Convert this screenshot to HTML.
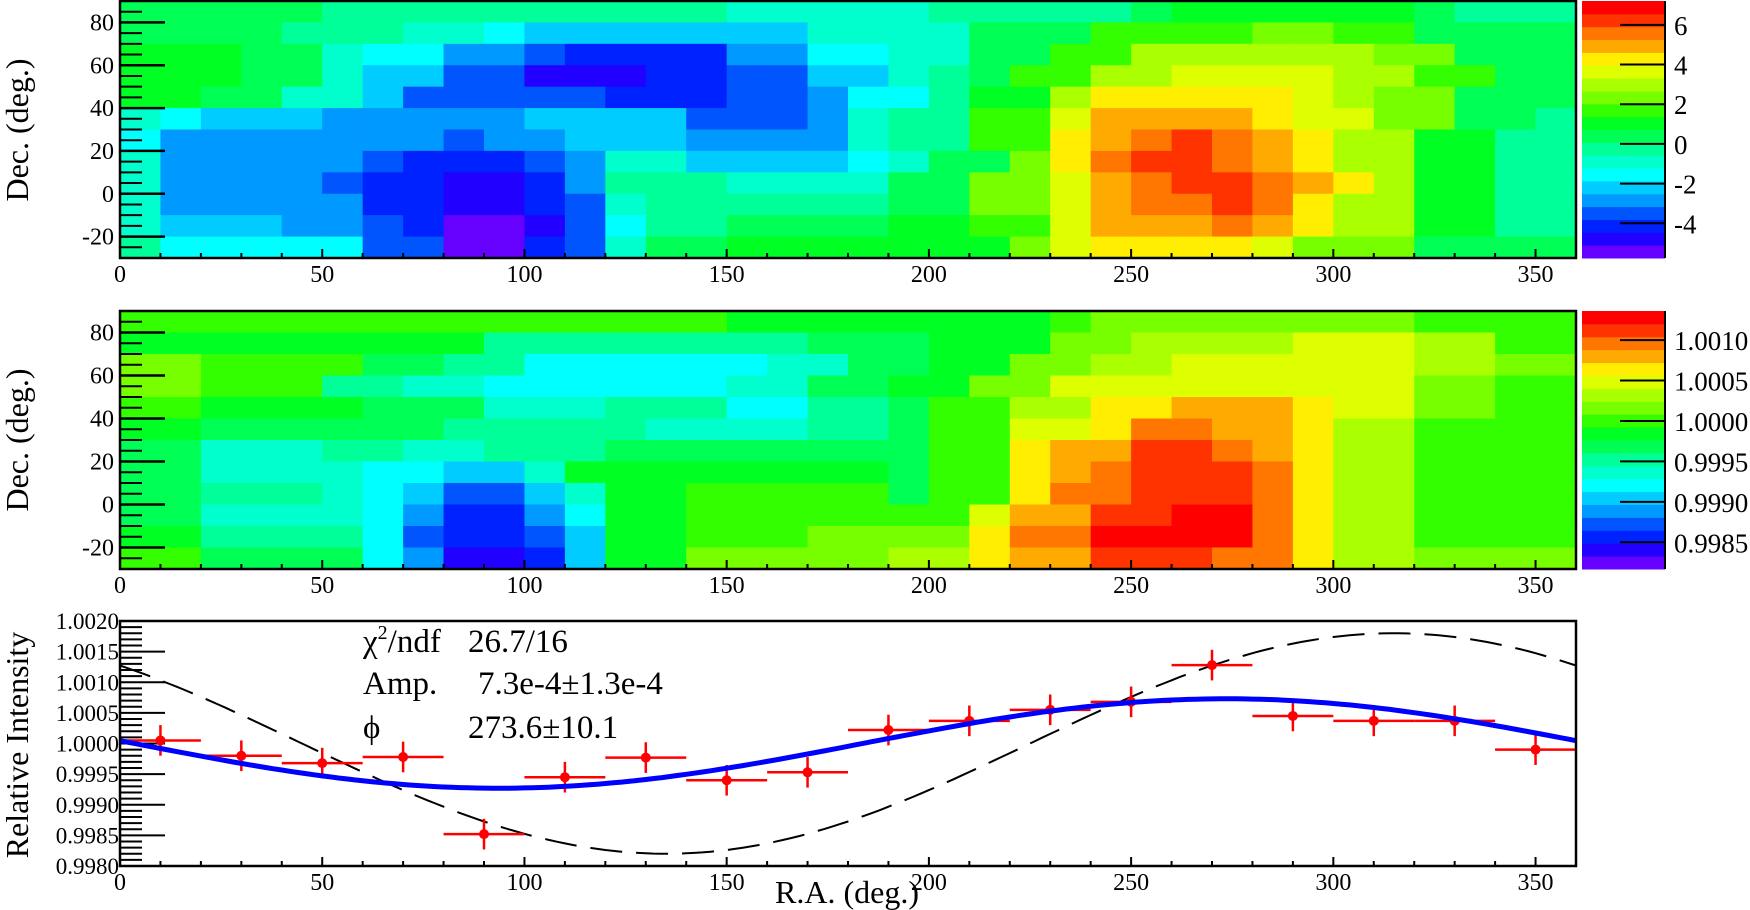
<!DOCTYPE html>
<html><head><meta charset="utf-8">
<style>
html,body{margin:0;padding:0;background:#fff;}
svg{display:block;font-family:"Liberation Serif",serif;}
</style></head>
<body>
<svg id="fig" width="1750" height="910" viewBox="0 0 1750 910" xmlns="http://www.w3.org/2000/svg">
  <g id="p1"></g>
  <g id="p2"></g>
  <g id="p3"></g>
  <text x="0" y="0" font-size="32" text-anchor="middle" transform="translate(28,130) rotate(-90)">Dec. (deg.)</text>
  <text x="0" y="0" font-size="32" text-anchor="middle" transform="translate(28,440) rotate(-90)">Dec. (deg.)</text>
  <text x="0" y="0" font-size="32" text-anchor="middle" transform="translate(28,745) rotate(-90)">Relative Intensity</text>
  <text x="847" y="903" font-size="32" text-anchor="middle">R.A. (deg.)</text>
  <g font-size="33">
    <text x="363" y="652">χ<tspan font-size="20" dy="-13">2</tspan><tspan dy="13">/ndf</tspan></text>
    <text x="468" y="652">26.7/16</text>
    <text x="363" y="694">Amp.</text>
    <text x="478" y="694">7.3e-4±1.3e-4</text>
    <text x="363" y="738">ϕ</text>
    <text x="468" y="738">273.6±10.1</text>
  </g>
</svg>
<script>
// ---------- data ----------
const raBinEdges = [0,10,20,30,40,50,60,70,80,90,100,110,120,130,140,150,160,170,180,190,200,210,220,230,240,250,260,270,280,290,300,310,320,330,340,350,360];
const decBinTops = [90,80,70,60,50,40,30,20,10,0,-10,-20];
// significance map (sigma), rows from Dec 80-90 down to Dec -30..-20
const sigRow80 = [0.4,0.4,0.4,0.4,0.4,-0.2,-0.2,-0.2,-0.2,-0.2,-0.2,-0.2,-0.2,-0.2,-0.5,-0.9,-0.9,-0.9,-0.9,-0.9,-0.5,-0.2,-0.2,-0.2,-0.2,0.4,0.8,0.8,0.8,1.1,1.1,0.8,0.4,-0.2,-0.2,-0.2];
const sigRow70 = [0.5,0.5,0.5,0.5,-0.2,-0.2,-0.2,-0.9,-1.2,-1.5,-2.5,-2.5,-2.5,-2.5,-2.5,-2.5,-2.5,-0.9,-0.9,-0.9,-0.9,0.4,0.4,0.4,1.7,1.7,2.0,2.0,2.4,2.4,2.0,2.0,0.4,0.4,0.4,0.4];
const sigRow60 = [1.0,1.0,1.0,0.4,0.4,-0.9,-1.5,-1.5,-2.6,-2.6,-3.5,-4.3,-4.3,-4.3,-4.3,-2.8,-2.8,-1.5,-1.5,-0.9,-0.9,0.4,0.4,1.7,1.7,3.2,3.2,3.2,3.2,3.2,3.2,2.4,2.4,0.4,0.4,0.4];
const sigRow50 = [1.2,1.2,1.2,0.5,0.5,-0.9,-2.2,-2.2,-3.5,-3.5,-4.8,-4.8,-4.8,-4.1,-4.1,-3.5,-3.5,-2.2,-2.2,-0.9,-0.4,0.4,1.7,1.7,3.0,3.0,3.7,3.7,3.7,3.7,3.0,3.0,1.7,1.7,0.4,0.4];
const sigRow40 = [1.1,1.1,0.4,0.4,-1.2,-1.2,-2.2,-3.4,-3.4,-3.4,-3.2,-3.2,-4.1,-4.1,-4.1,-3.5,-3.5,-2.8,-1.5,-1.5,-0.2,1.1,1.1,3.0,4.0,4.3,4.3,4.0,4.0,3.7,3.3,2.4,2.4,0.4,0.4,0.4];
const sigRow30 = [-0.9,-1.5,-2.2,-2.2,-2.2,-2.8,-2.8,-2.8,-2.8,-2.8,-2.5,-2.5,-2.5,-2.5,-3.5,-3.5,-3.5,-2.8,-0.9,-0.2,-0.2,1.4,1.4,3.7,5.0,5.2,5.0,5.0,4.3,3.7,3.7,2.4,2.4,0.4,0.4,-0.2];
const sigRow20 = [-1.5,-2.8,-2.8,-2.8,-2.8,-2.8,-2.8,-2.8,-3.5,-2.8,-2.8,-2.4,-2.4,-2.4,-3.1,-3.1,-3.1,-2.8,-0.9,-0.2,-0.2,1.7,1.7,4.3,5.0,5.6,6.3,5.6,5.0,4.3,3.0,3.0,1.1,1.1,-0.2,-0.2];
const sigRow10 = [-0.9,-2.9,-2.9,-2.9,-2.9,-2.9,-3.5,-4.0,-4.0,-4.0,-3.5,-2.8,-1.2,-1.2,-2.2,-2.2,-2.2,-2.2,-1.5,-0.9,0.4,0.4,2.4,4.3,5.6,6.3,6.3,5.6,5.0,4.3,3.0,3.0,1.1,1.1,-0.2,-0.2];
const sigRow0 = [-0.9,-2.8,-2.8,-2.8,-2.8,-3.5,-4.1,-4.1,-4.7,-4.7,-4.1,-2.8,-0.5,-0.5,-0.5,-0.9,-0.9,-0.9,-0.9,0.4,0.4,2.4,2.4,3.7,5.0,5.6,6.5,6.3,5.6,5.0,4.3,3.0,1.1,1.1,-0.2,-0.5];
const sigRowM10 = [-0.9,-2.6,-2.6,-2.6,-2.8,-2.8,-4.1,-4.1,-5.1,-5.1,-4.1,-3.5,-0.9,-0.1,-0.1,-0.1,-0.2,-0.2,-0.2,0.4,0.4,2.4,2.4,3.7,5.0,5.6,5.6,6.3,5.3,4.3,3.0,3.0,1.1,1.1,-0.2,-0.2];
const sigRowM20 = [-0.9,-2.2,-2.2,-2.2,-2.8,-2.8,-3.5,-4.1,-5.4,-5.4,-4.8,-3.5,-1.5,-0.2,-0.2,0.4,0.4,0.4,0.4,1.1,1.1,1.7,1.7,3.7,5.0,5.0,5.0,5.6,5.0,4.3,3.0,3.0,1.1,1.1,-0.2,-0.2];
const sigRowM30 = [-0.2,-1.5,-1.5,-1.8,-1.8,-1.8,-3.5,-3.5,-5.2,-5.2,-4.1,-3.5,-0.9,0.4,0.4,1.0,1.0,1.0,1.0,1.0,1.0,1.0,2.4,3.7,4.3,4.3,4.3,4.3,3.7,2.4,2.4,2.4,0.4,0.4,0.4,0.4];
// relative intensity map, deviation from 1 in units of 1e-4
const relRow80 = [-0.5,-0.5,-0.5,-0.5,-0.5,-0.5,-0.5,-0.5,-0.5,-0.5,-0.5,-0.5,-0.5,-0.5,-0.5,-1.5,-1.5,-1.5,-1.5,-1.5,-1.5,-1.5,-1.5,-0.5,1.7,1.7,1.7,1.7,1.7,1.7,1.7,1.7,0.1,0.1,0.1,0.1];
const relRow70 = [-1.5,-1.5,-1.5,-1.5,-1.5,-1.5,-1.5,-1.5,-1.5,-4.0,-4.0,-4.0,-4.0,-4.0,-4.0,-4.0,-4.0,-3.1,-3.1,-3.1,-1.5,-1.5,-1.5,1.7,1.7,3.3,3.3,3.3,3.3,4.9,4.9,4.9,3.3,3.3,0.1,0.1];
const relRow60 = [1.5,1.5,0.1,0.1,0.1,0.1,-3.1,-3.1,-5.5,-5.5,-7.5,-7.5,-7.5,-7.5,-7.5,-7.5,-6.3,-6.3,-3.1,-3.1,-1.5,-1.5,1.7,1.7,4.0,4.0,4.9,4.9,4.9,4.9,4.9,4.9,3.3,3.3,1.7,1.7];
const relRow50 = [1.8,1.8,0.1,0.1,0.1,-4.0,-4.0,-6.3,-6.3,-7.9,-7.9,-7.9,-7.9,-7.9,-7.9,-6.3,-6.3,-3.1,-3.1,-1.5,-1.5,1.7,1.7,4.9,4.9,4.9,5.5,5.5,5.5,5.5,4.9,4.9,1.7,1.7,0.1,0.1];
const relRow40 = [0.1,0.1,-1.5,-1.5,-1.5,-1.5,-3.1,-3.1,-3.1,-6.3,-6.3,-6.3,-4.7,-4.7,-4.7,-7.5,-7.5,-4.7,-4.7,-3.1,0.1,0.1,3.3,3.3,6.5,6.5,7.5,7.5,7.5,6.5,4.9,4.9,1.7,1.7,0.1,0.1];
const relRow30 = [-1.5,-1.5,-3.1,-3.1,-3.1,-3.1,-3.1,-3.1,-4.7,-4.7,-4.7,-4.7,-4.7,-6.3,-6.3,-6.3,-6.3,-4.7,-4.7,-3.1,0.1,0.1,4.9,4.9,6.5,9.5,9.5,8.1,8.1,6.5,3.3,3.3,0.1,0.1,0.1,0.1];
const relRow20 = [-3.1,-3.1,-6.0,-6.0,-6.0,-4.7,-4.7,-6.3,-6.3,-4.7,-4.7,-4.7,-2.5,-2.5,-2.5,-2.5,-2.5,-3.1,-3.1,-3.1,0.1,0.1,6.5,7.5,8.1,10.5,10.5,9.7,8.1,6.5,3.3,3.3,0.1,0.1,0.1,0.1];
const relRow10 = [-3.1,-3.1,-6.3,-6.3,-6.3,-6.3,-7.9,-7.9,-9.5,-9.5,-6.3,-2.0,-2.0,-2.0,-1.5,-1.5,-1.5,-1.5,-1.5,-3.1,0.1,0.1,6.5,8.5,9.0,11.3,11.3,11.3,9.7,6.5,3.3,3.3,0.1,0.1,0.1,0.1];
const relRow0 = [-3.1,-3.1,-5.5,-5.5,-5.5,-6.3,-7.9,-9.5,-12,-12,-9.5,-6.3,-1.5,-1.5,-0.5,-0.5,-0.5,-0.5,-0.5,-3.1,0.1,0.1,6.5,9.0,9.7,11.3,11.3,12.0,9.7,6.5,3.3,3.3,0.1,0.1,0.1,0.1];
const relRowM10 = [-3.1,-3.1,-6.3,-6.3,-6.3,-6.3,-7.9,-11.1,-14.3,-14.3,-11.1,-7.9,-1.5,-1.5,-0.5,-0.5,-0.5,-0.5,-0.5,0.1,0.1,4.9,8.1,8.1,11.0,11.0,12.3,12.3,9.7,6.5,3.3,3.3,0.1,0.1,0.1,0.1];
const relRowM20 = [-1.5,-1.5,-5.5,-5.5,-5.5,-5.5,-7.9,-12.7,-15,-15,-12.7,-9.5,-1.5,-1.5,0.1,0.1,0.1,1.7,1.7,1.7,1.7,6.5,9.7,9.7,12.5,12.5,12.5,12.5,9.7,6.5,3.3,3.3,0.1,0.8,0.8,0.8];
const relRowM30 = [0.1,0.1,-3.1,-3.1,-3.1,-3.1,-7.9,-11.1,-16.5,-16.5,-14.3,-9.5,-1.5,-1.5,1.8,1.8,1.8,1.8,1.8,3.3,3.3,6.5,8.1,8.1,11.5,11.5,11.5,9.7,9.7,6.5,3.3,3.3,1.7,1.7,1.7,1.7];
// 1D profile
const profileRA = [10,30,50,70,90,110,130,150,170,190,210,230,250,270,290,310,330,350];
const profileValue = [1.00005,0.99980,0.99968,0.99978,0.99852,0.99945,0.99977,0.99940,0.99953,1.00022,1.00037,1.00055,1.00068,1.00128,1.00045,1.00037,1.00037,0.99990];
const profileError = [0.00025,0.00025,0.00025,0.00025,0.00025,0.00025,0.00025,0.00025,0.00025,0.00025,0.00025,0.00025,0.00025,0.00025,0.00025,0.00025,0.00025,0.00025];
const profileRAHalfWidth = 10;
const fitAmplitude = 7.3e-4, fitPhase = 273.6;
const refAmplitude = 1.8e-3, refPhase = 315;
const xTicks = [0,50,100,150,200,250,300,350];
const decTicks = [-20,0,20,40,60,80];
const sigBarTicks = [6,4,2,0,-2,-4];
const relBarTicks = ['1.0010','1.0005','1.0000','0.9995','0.9990','0.9985'];
const profileTicks = ['1.0020','1.0015','1.0010','1.0005','1.0000','0.9995','0.9990','0.9985','0.9980'];

// ---------- drawing ----------
const NS = 'http://www.w3.org/2000/svg';
const palette = ['#6600ff','#2200ff','#0022ff','#0055ff','#0099ff','#00ccff','#00ffff','#00ffcc','#00ff99','#00ff55','#00ff22','#33ff00','#77ff00','#aaff00','#ddff00','#ffee00','#ffaa00','#ff7700','#ff3300','#ff0000'];
const X0 = 120, X1 = 1576;
const xs = ra => X0 + ra * (X1 - X0) / 360;
function mk(tag, attrs, parent){ const e = document.createElementNS(NS, tag); for (const k in attrs) e.setAttribute(k, attrs[k]); parent.appendChild(e); return e; }

function heatPanel(g, rows, top, bottom, vmin, vmax, barTicks, barTickVals, prefix){
  const ys = dec => top + (90 - dec) * (bottom - top) / 120;
  const bw = (vmax - vmin) / 20;
  rows.forEach((row, j) => {
    const d1 = decBinTops[j], d0 = d1 - 10;
    row.forEach((v, i) => {
      let k = Math.floor((v - vmin) / bw); k = Math.max(0, Math.min(19, k));
      const r = mk('rect', {x: xs(raBinEdges[i]), y: ys(d1), width: xs(raBinEdges[i+1]) - xs(raBinEdges[i]) + 0.6, height: ys(d0) - ys(d1) + 0.6, fill: palette[k]}, g);
      
      
    });
  });
  for (let d = -30; d <= 90; d += 5) {
    const major = d % 20 === 0;
    const t = mk('line', {x1: X0, x2: X0 + (major ? 45 : 22), y1: ys(d), y2: ys(d), stroke: '#000', 'stroke-width': major ? 2.5 : 2}, g);
    
    
  }
  decTicks.forEach(d => {
    const l = mk('text', {x: 114, y: ys(d) + 8, 'font-size': 24, 'text-anchor': 'end'}, g);
    l.textContent = d;
    
    
  });
  xAxis(g, bottom);
  const f = mk('rect', {x: X0, y: top, width: X1 - X0, height: bottom - top, fill: 'none', stroke: '#000', 'stroke-width': 2.5}, g);
  
  
  const CB0 = 1582, CB1 = 1665;
  const bh = (bottom - top) / 20;
  for (let k = 0; k < 20; k++) {
    const c = mk('rect', {x: CB0, y: bottom - (k + 1) * bh, width: CB1 - CB0, height: bh + 0.5, fill: palette[k]}, g);
    
    
  }
  const axl = mk('line', {x1: CB1, x2: CB1, y1: top, y2: bottom, stroke: '#000', 'stroke-width': 2}, g);
  
  
  barTicks.forEach((lab, i) => {
    const v = barTickVals[i];
    const y = bottom - (v - vmin) / (vmax - vmin) * (bottom - top);
    const t = mk('line', {x1: CB1 - 45, x2: CB1, y1: y, y2: y, stroke: '#000', 'stroke-width': 2}, g);
    
    
    const l = mk('text', {x: CB1 + 9, y: y + 10, 'font-size': 27}, g);
    l.textContent = lab;
    
    
  });
}

function xAxis(g, bottom){
  for (let ra = 0; ra <= 360; ra += 10) {
    const major = ra % 50 === 0;
    const t = mk('line', {x1: xs(ra), x2: xs(ra), y1: bottom, y2: bottom - (major ? 9 : 5), stroke: '#000', 'stroke-width': 2}, g);
    
    
  }
  xTicks.forEach(ra => {
    const l = mk('text', {x: xs(ra), y: bottom + 24, 'font-size': 24, 'text-anchor': 'middle'}, g);
    l.textContent = ra;
    
    
  });
}

const sigRows = [sigRow80,sigRow70,sigRow60,sigRow50,sigRow40,sigRow30,sigRow20,sigRow10,sigRow0,sigRowM10,sigRowM20,sigRowM30];
const relRows = [relRow80,relRow70,relRow60,relRow50,relRow40,relRow30,relRow20,relRow10,relRow0,relRowM10,relRowM20,relRowM30];
heatPanel(document.getElementById('p1'), sigRows, 1, 258, -5.75, 7.2, sigBarTicks.map(String), sigBarTicks, 'significance-map');
heatPanel(document.getElementById('p2'), relRows, 311, 569, -18.3, 13.6, relBarTicks, relBarTicks.map(s => (parseFloat(s) - 1) * 1e4), 'relative-intensity-map');

// ---------- profile panel ----------
const g3 = document.getElementById('p3');
const T3 = 621, B3 = 866, VMAX = 1.0020, VMIN = 0.9980;
const yv = v => T3 + (VMAX - v) / (VMAX - VMIN) * (B3 - T3);
for (let i = 0; i <= 40; i++) {
  const v = VMIN + i * 0.0001;
  const major = i % 5 === 0;
  const t = mk('line', {x1: X0, x2: X0 + (major ? 45 : 22), y1: yv(v), y2: yv(v), stroke: '#000', 'stroke-width': 2}, g3);
  
  
}
profileTicks.forEach(s => {
  const l = mk('text', {x: 119, y: yv(parseFloat(s)) + 8, 'font-size': 23, 'text-anchor': 'end'}, g3);
  l.textContent = s;
  
  
});
xAxis(g3, B3);
let dRef = '', dFit = '';
for (let ra = 0; ra <= 360; ra += 2) {
  dRef += (ra ? 'L' : 'M') + xs(ra).toFixed(1) + ',' + yv(1 + refAmplitude * Math.cos((ra - refPhase) * Math.PI / 180)).toFixed(1);
  dFit += (ra ? 'L' : 'M') + xs(ra).toFixed(1) + ',' + yv(1 + fitAmplitude * Math.cos((ra - fitPhase) * Math.PI / 180)).toFixed(1);
}
const refLine = mk('path', {d: dRef, fill: 'none', stroke: '#000', 'stroke-width': 2, 'stroke-dasharray': '32 14'}, g3);


profileRA.forEach((ra, i) => {
  const v = profileValue[i], e = profileError[i];
  const h = mk('line', {x1: xs(ra - profileRAHalfWidth), x2: xs(ra + profileRAHalfWidth), y1: yv(v), y2: yv(v), stroke: '#f00', 'stroke-width': 2.5}, g3);
  
  
  const vl = mk('line', {x1: xs(ra), x2: xs(ra), y1: yv(v + e), y2: yv(v - e), stroke: '#f00', 'stroke-width': 2.5}, g3);
  
  
  const c = mk('circle', {cx: xs(ra), cy: yv(v), r: 5, fill: '#f00'}, g3);
  
  
});
const fitLine = mk('path', {d: dFit, fill: 'none', stroke: '#0000ff', 'stroke-width': 5}, g3);


const f3 = mk('rect', {x: X0, y: T3, width: X1 - X0, height: B3 - T3, fill: 'none', stroke: '#000', 'stroke-width': 2.5}, g3);


</script>
</body></html>
